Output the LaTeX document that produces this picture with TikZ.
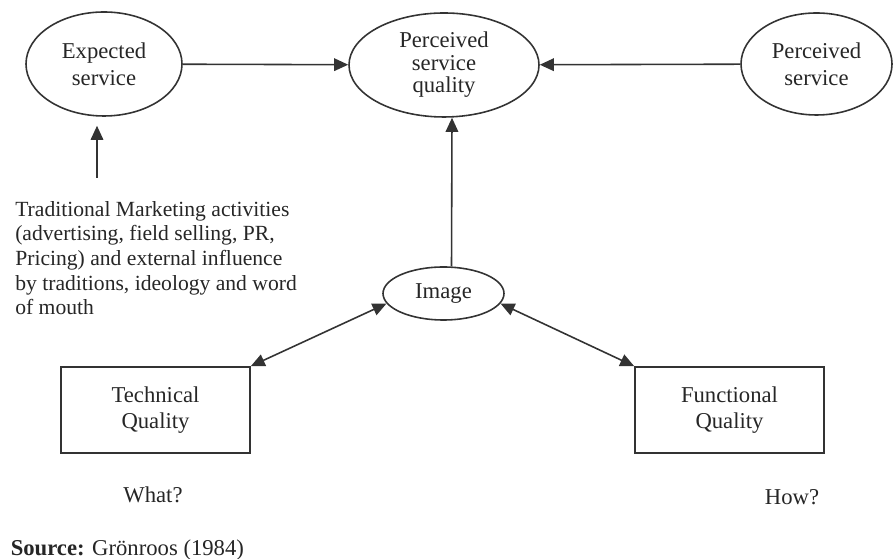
\documentclass[tikz,border=0pt]{standalone}
\usepackage{fontspec}
\setmainfont{Liberation Serif}
\usetikzlibrary{shapes.geometric,arrows.meta}

\begin{document}
\begin{tikzpicture}[
  line width=0.9pt,
  every node/.style={text=cT, font=\fontsize{12.9}{15.3}\selectfont},
  oval/.style={ellipse, draw=cL, inner sep=0pt, align=center},
  qbox/.style={rectangle, draw=cL, minimum width=3.78cm, minimum height=1.72cm,
    align=center, font=\fontsize{12.9}{14.7}\selectfont},
  link/.style={draw=cL, -{Triangle[length=0.28cm,width=0.25cm]}},
  link2/.style={draw=cL, {Triangle[length=0.28cm,width=0.25cm]}-{Triangle[length=0.28cm,width=0.25cm]}}
]

\colorlet{cL}{black!80}
\colorlet{cT}{black!85}

\useasboundingbox (0,0) rectangle (17.88,11.18);

%% top row of ovals
\node[oval, minimum width=3.12cm, minimum height=2.08cm] (expected) at (2.08,9.90)
  {Expected\\service};
\node[oval, minimum width=3.80cm, minimum height=2.08cm,
  font=\fontsize{12.9}{12.8}\selectfont] (pquality) at (8.88,9.88)
  {Perceived\\service\\quality};
\node[oval, minimum width=3.02cm, minimum height=2.04cm] (perceived) at (16.33,9.90)
  {Perceived\\service};

%% image in the middle
\node[oval, minimum width=2.42cm, minimum height=1.06cm] (image) at (8.87,5.31) {Image};

%% the two quality boxes
\node[qbox] (technical) at (3.11,2.98) {Technical\\Quality};
\node[qbox] (functional) at (14.59,2.98) {Functional\\Quality};

\node (what) at (3.06,1.28) {What?};
\node (how) at (15.84,1.24) {How?};

%% marketing text, left
\node[anchor=north west, inner sep=0pt, align=left,
  font=\fontsize{12.3}{14.0}\selectfont] (marketing) at (0.29,7.17)
  {Traditional Marketing activities\\
   (advertising, field selling, PR,\\
   Pricing) and external influence\\
   by traditions, ideology and word\\
   of mouth};
\coordinate (trad) at (1.94,7.62);

\node[anchor=west, inner sep=0pt] (source) at (0.2,0.18)
  {\textbf{Source:} Grönroos (1984)};

%% arrows
\draw[link] (expected) -- (pquality);
\draw[link] (perceived) -- (pquality);
\draw[link, shorten >=0.18cm] (trad) -- (trad |- expected.south);
\draw[link] ([xshift=0.16cm]image.north) -- ([xshift=0.16cm]pquality.south);
\draw[link2] (technical.north east) -- (image.190);
\draw[link2] (functional.north west) -- (image.-10);

\end{tikzpicture}
\end{document}
